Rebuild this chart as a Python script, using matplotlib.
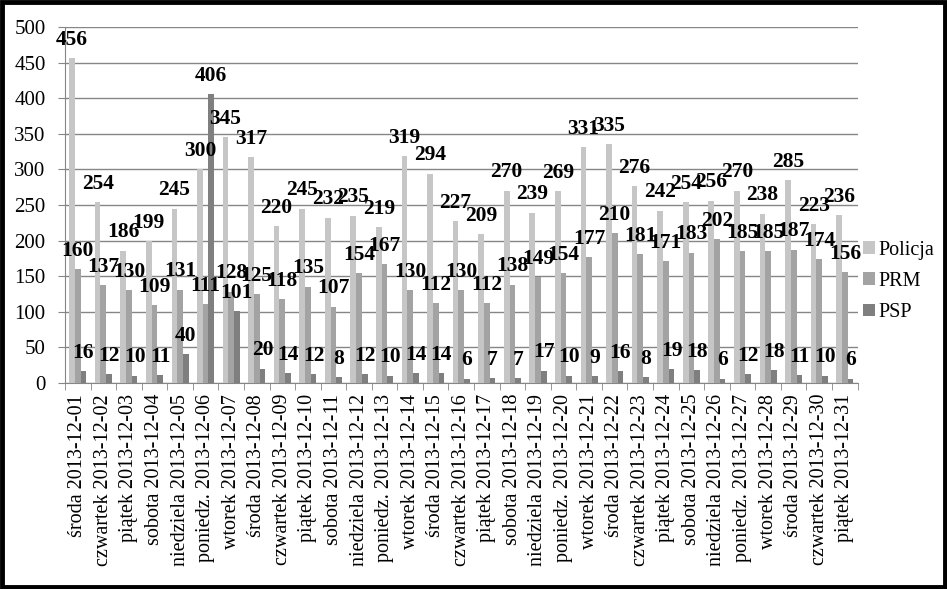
import numpy as np
import matplotlib
matplotlib.use("Agg")
import matplotlib.pyplot as plt
from matplotlib.patches import Rectangle

plt.rcParams['font.family'] = ['Liberation Serif', 'DejaVu Serif']

dni = ["środa", "czwartek", "piątek", "sobota", "niedziela", "poniedz.", "wtorek"]
days = [dni[i % 7] + " 2013-12-%02d" % (i + 1) for i in range(31)]

policja = [456, 254, 186, 199, 245, 300, 345, 317, 220, 245, 232, 235, 219, 319, 294, 227,
           209, 270, 239, 269, 331, 335, 276, 242, 254, 256, 270, 238, 285, 223, 236]
prm = [160, 137, 130, 109, 131, 111, 128, 125, 118, 135, 107, 154, 167, 130, 112, 130,
       112, 138, 149, 154, 177, 210, 181, 171, 183, 202, 185, 185, 187, 174, 156]
psp = [16, 12, 10, 11, 40, 406, 101, 20, 14, 12, 8, 12, 10, 14, 14, 6,
       7, 7, 17, 10, 9, 16, 8, 19, 18, 6, 12, 18, 11, 10, 6]

series = [("Policja", policja, "#c6c6c6"),
          ("PRM", prm, "#a3a3a3"),
          ("PSP", psp, "#7f7f7f")]

fig = plt.figure(figsize=(9.47, 5.89), dpi=100)
ax = fig.add_axes([0.0686, 0.35, 0.837, 0.604])

x = np.arange(len(days))
w = 1 / 4.5
for k, (name, vals, col) in enumerate(series):
    pos = x + (k - 1) * w
    ax.bar(pos, vals, width=w, color=col, label=name, zorder=3)
    # etykiety nad słupkami (w oryginale też nachodzą na siebie)
    for xi, v in zip(pos, vals):
        ax.annotate(str(v), (xi, v), xytext=(0, 6), textcoords="offset points",
                    ha="center", va="bottom", fontsize=15.5, fontweight="bold", zorder=5)

ax.set_xlim(-0.5, len(days) - 0.5)
ax.set_ylim(0, 500)
ax.set_yticks(np.arange(0, 501, 50))
ax.yaxis.grid(True, color="#868686", lw=1, zorder=0)
ax.tick_params(axis="y", length=5, color="#868686", labelsize=15, pad=9)

ax.set_xticks(x)
ax.set_xticklabels(days, rotation=90, fontsize=14.5)
ax.set_xticks(np.arange(-0.5, len(days), 1), minor=True)
ax.tick_params(axis="x", which="major", length=0, pad=8)
ax.tick_params(axis="x", which="minor", length=5, color="#868686")

for s in ["top", "right"]:
    ax.spines[s].set_visible(False)
for s in ["left", "bottom"]:
    ax.spines[s].set_color("#868686")

ax.legend(loc="center left", bbox_to_anchor=(0.997, 0.285), frameon=False,
          fontsize=14.5, handlelength=0.6, handleheight=0.6, handletextpad=0.15,
          labelspacing=0.6, borderaxespad=0)

fig.patches.append(Rectangle((0.002, 0.003), 0.996, 0.994, transform=fig.transFigure,
                             fill=False, edgecolor="black", lw=3.5))

fig.savefig("out.png", dpi=100)
